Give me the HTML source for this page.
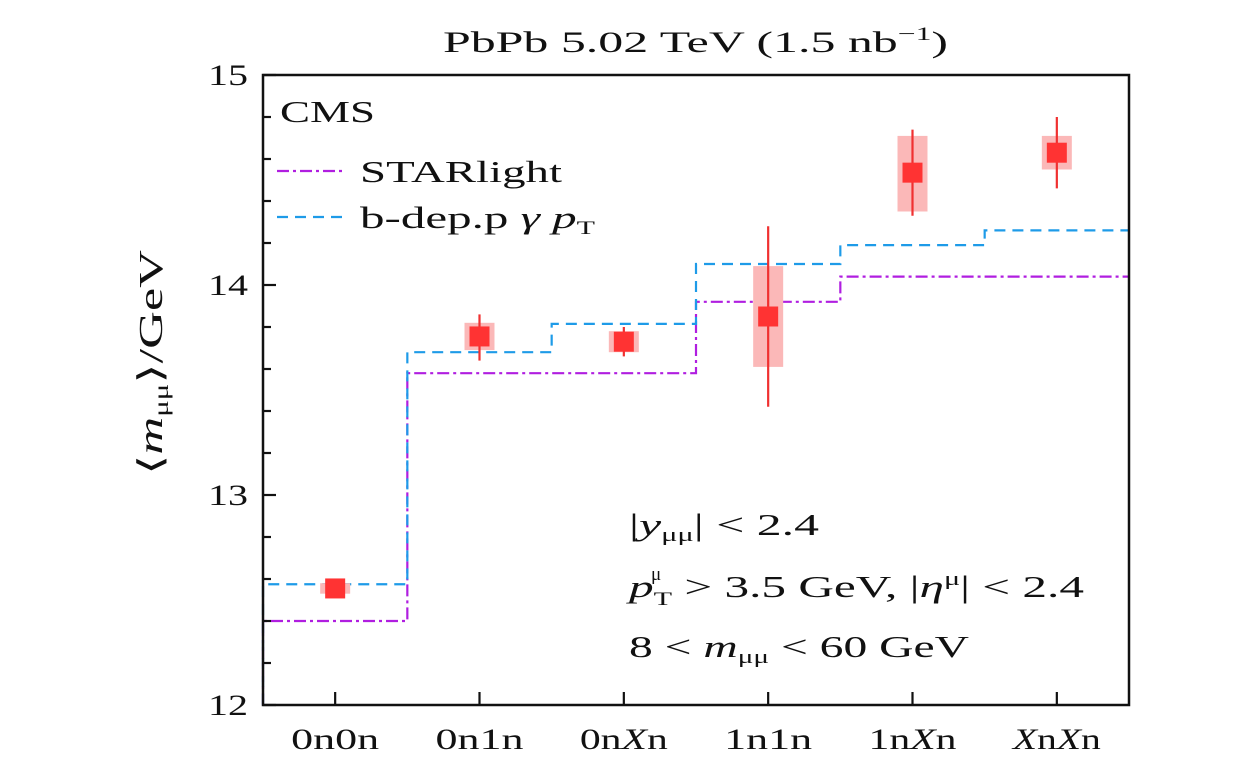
<!DOCTYPE html>
<html><head><meta charset="utf-8"><style>
body{margin:0;background:#fff;}
svg text{font-family:"Liberation Serif",serif;fill:#111;}
</style></head><body>
<svg width="1260" height="764" viewBox="0 0 1260 764" xmlns="http://www.w3.org/2000/svg">
<g id="plot"></g>
</svg>
<script>
const categories=["0n0n","0n1n","0nXn","1n1n","1nXn","XnXn"];
const dataVals=[12.555,13.755,13.73,13.85,14.535,14.63];
const statLo=[12.55,13.64,13.66,13.42,14.33,14.46];
const statHi=[12.56,13.86,13.80,14.28,14.74,14.80];
const sysLo=[12.53,13.69,13.68,13.61,14.35,14.55];
const sysHi=[12.58,13.82,13.78,14.09,14.71,14.71];
const starlight=[12.40,13.58,13.58,13.92,14.04,14.04];
const bdep=[12.575,13.68,13.815,14.10,14.19,14.26];
const yTicks=[12,13,14,15];

const L=263,R=1129,T=75,B=705,ymin=12,ymax=15;
const bw=(R-L)/categories.length;
const X=i=>L+bw*(i+0.5);
const Y=v=>B-(v-ymin)/(ymax-ymin)*(B-T);
const NS="http://www.w3.org/2000/svg";
const g=document.getElementById('plot');
function mk(tag,attrs,parent){const e=document.createElementNS(NS,tag);for(const k in attrs)e.setAttribute(k,attrs[k]);(parent||g).appendChild(e);return e;}

let t=mk('text',{x:443,y:52,'font-size':30,textLength:505,lengthAdjust:'spacingAndGlyphs'});


t.innerHTML='PbPb 5.02 TeV (1.5 nb<tspan font-size="19" dy="-12">−1</tspan><tspan dy="12">)</tspan>';

function stepPath(arr){let d=`M${L},${B} L${L},${Y(arr[0])}`;arr.forEach((v,i)=>{d+=` L${L+bw*i},${Y(v)} L${L+bw*(i+1)},${Y(v)}`;});return d;}
let p=mk('path',{d:stepPath(starlight),fill:'none',stroke:'#b01ee0','stroke-width':2.2,'stroke-dasharray':'12,4,3,4'});


p=mk('path',{d:stepPath(bdep),fill:'none',stroke:'#1e9be8','stroke-width':2.2,'stroke-dasharray':'11,7'});



categories.forEach((c,i)=>{
  const x=X(i);
  let r=mk('rect',{x:x-15,y:Y(sysHi[i]),width:30,height:Math.max(2,Y(sysLo[i])-Y(sysHi[i])),fill:'#fbb8b8'});
  
  
  let l=mk('line',{x1:x,x2:x,y1:Y(statHi[i]),y2:Y(statLo[i]),stroke:'#f03030','stroke-width':2.2});
  
  
  let m=mk('rect',{x:x-10,y:Y(dataVals[i])-10,width:20,height:20,fill:'#ff3333'});
  
  
});

let f=mk('rect',{x:L,y:T,width:R-L,height:B-T,fill:'none',stroke:'#111','stroke-width':2.5});



for(let v=12;v<=15.001;v+=0.2){
  const major=Math.abs(v-Math.round(v))<1e-6;
  let tk=mk('line',{x1:L,x2:L+(major?13:8),y1:Y(v),y2:Y(v),stroke:'#111','stroke-width':2.2});
  
  
}
yTicks.forEach(v=>{
  let tx=mk('text',{x:248,y:Y(v)+10,'font-size':30,'text-anchor':'end',textLength:40,lengthAdjust:'spacingAndGlyphs'});
  
  
  tx.textContent=v;
});
categories.forEach((c,i)=>{
  let tk=mk('line',{x1:X(i),x2:X(i),y1:B,y2:B-13,stroke:'#111','stroke-width':2.2});
  
  
  let tx=mk('text',{x:X(i)-44,y:749,'font-size':30,textLength:88,lengthAdjust:'spacingAndGlyphs'});
  
  
  tx.innerHTML=c.replace(/X/g,'<tspan font-style="italic">X</tspan>');
});

let yt=mk('text',{transform:'translate(162,475) rotate(-90)','font-size':34,textLength:225,lengthAdjust:'spacingAndGlyphs'});


yt.innerHTML='⟨<tspan font-style="italic">m</tspan><tspan font-size="20" dy="6">μμ</tspan><tspan dy="-6">⟩/GeV</tspan>';

let cms=mk('text',{x:280,y:122,'font-size':31,textLength:95,lengthAdjust:'spacingAndGlyphs'});


cms.textContent='CMS';
let ll=mk('line',{x1:277,x2:343,y1:171,y2:171,stroke:'#b01ee0','stroke-width':2.2,'stroke-dasharray':'12,4,3,4'});


let lt=mk('text',{x:360,y:182,'font-size':31,textLength:202,lengthAdjust:'spacingAndGlyphs'});


lt.textContent='STARlight';
ll=mk('line',{x1:277,x2:343,y1:217,y2:217,stroke:'#1e9be8','stroke-width':2.2,'stroke-dasharray':'11,7'});


lt=mk('text',{x:360,y:228,'font-size':31,textLength:235,lengthAdjust:'spacingAndGlyphs'});


lt.innerHTML='b-dep.p <tspan font-style="italic">γ p</tspan><tspan font-size="19" dy="6">T</tspan>';

const cuts=[
 ['cut-rapidity',535,190,'|<tspan font-style="italic">y</tspan><tspan font-size="19" dy="6">μμ</tspan><tspan dy="-6">| &lt; 2.4</tspan>'],
 ['cut-pt-eta',597,455,'<tspan font-style="italic">p</tspan><tspan font-size="19" dy="8">T</tspan><tspan dy="-8"> &gt; 3.5 GeV, |</tspan><tspan font-style="italic">η</tspan><tspan font-size="19" dy="-12">μ</tspan><tspan dy="12">| &lt; 2.4</tspan>'],
 ['cut-mass',657,340,'8 &lt; <tspan font-style="italic">m</tspan><tspan font-size="19" dy="6">μμ</tspan><tspan dy="-6"> &lt; 60 GeV</tspan>']
];
cuts.forEach(c=>{let e=mk('text',{x:629,y:c[1],'font-size':31,textLength:c[2],lengthAdjust:'spacingAndGlyphs'});
 
 
 e.innerHTML=c[3];});
let mu=mk('text',{x:651,y:580,'font-size':19});


mu.textContent='μ';
</script>
</body></html>
